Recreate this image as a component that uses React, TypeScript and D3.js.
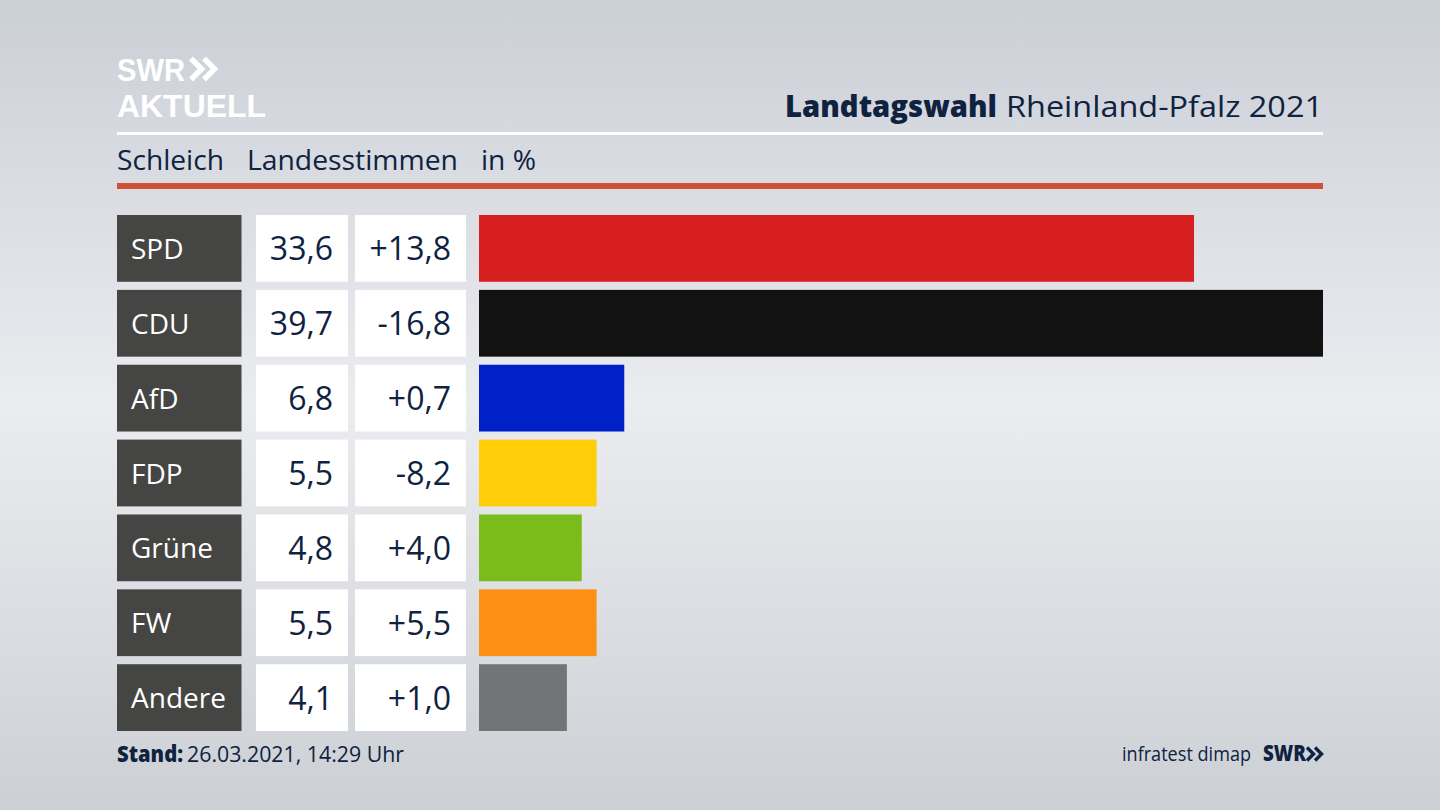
import React from "react";
import * as d3 from "d3";

const parties = ["SPD", "CDU", "AfD", "FDP", "Grüne", "FW", "Andere"];
const shares = [33.6, 39.7, 6.8, 5.5, 4.8, 5.5, 4.1];
const changes = ["+13,8", "-16,8", "+0,7", "-8,2", "+4,0", "+5,5", "+1,0"];
const colors = ["#d81f1f", "#121212", "#0021c8", "#ffcd09", "#7abc1a", "#ff9016", "#737476"];

const W = 1440, H = 810;
const NAVY = "#0f2240";
const FONT = "'Open Sans', 'Noto Sans', sans-serif";
const LOGO = "'Liberation Sans', sans-serif";
const y = d3.scaleBand<string>().domain(parties).range([215, 731]).paddingInner(0.108).paddingOuter(0);
const x = d3.scaleLinear().domain([0, 39.7]).range([479, 1323]);
const fmt = (v: number) => v.toFixed(1).replace(".", ",");

const chevrons = (cx: number, cy: number, s: number) =>
  [0, 0.62].map((o) => {
    const l = cx + o * s;
    return `M${l},${cy - s * 0.5}L${l + s * 0.5},${cy}L${l},${cy + s * 0.5}`;
  });

export default function App() {
  return (
    <svg width={W} height={H} viewBox={`0 0 ${W} ${H}`} style={{ position: "absolute", left: 0, top: 0, display: "block" }} fontFamily={FONT}>
      <defs>
        <linearGradient id="bg" x1="0" y1="0" x2="0" y2="1">
          <stop offset="0" stopColor="#cbcfd6" />
          <stop offset="0.5" stopColor="#ebecf0" />
          <stop offset="1" stopColor="#ccd0d5" />
        </linearGradient>
      </defs>
      <rect width={W} height={H} fill="url(#bg)" />

      <text x={117} y={80.5} fontFamily={LOGO} fontSize={32} fontWeight={700} fill="#fff" textLength={68} lengthAdjust="spacingAndGlyphs">SWR</text>
      {chevrons(191, 69, 21).map((d, i) => (
        <path key={i} d={d} fill="none" stroke="#fff" strokeWidth={5.5} />
      ))}
      <text x={117} y={117} fontFamily={LOGO} fontSize={32} fontWeight={700} fill="#fff" textLength={149} lengthAdjust="spacingAndGlyphs">AKTUELL</text>

      <text x={785} y={117} fontSize={30} fontWeight={800} fill={NAVY} textLength={212} lengthAdjust="spacingAndGlyphs">Landtagswahl</text>
      <text x={1006} y={117} fontSize={30} fill={NAVY} textLength={317} lengthAdjust="spacingAndGlyphs">Rheinland-Pfalz 2021</text>
      <rect x={117} y={132} width={1206} height={3} fill="#fff" />

      <text x={117} y={170} fontSize={28} fill={NAVY} textLength={107} lengthAdjust="spacingAndGlyphs">Schleich</text>
      <text x={247} y={170} fontSize={28} fill={NAVY} textLength={211} lengthAdjust="spacingAndGlyphs">Landesstimmen</text>
      <text x={481} y={170} fontSize={28} fill={NAVY} textLength={55} lengthAdjust="spacingAndGlyphs">in %</text>
      <rect x={117} y={183} width={1206} height={6} fill="#cf5238" />

      {parties.map((p, i) => {
        const top = y(p)!;
        const h = y.bandwidth();
        const mid = top + h / 2 + 12;
        return (
          <g key={p}>
            <rect x={117} y={top} width={124.5} height={h} fill="#454543" />
            <text x={131} y={mid - 1.5} fontSize={28} fill="#fff">{p}</text>
            <rect x={256} y={top} width={92} height={h} fill="#fff" />
            <text x={333} y={mid} fontSize={32} textAnchor="end" fill={NAVY}>{fmt(shares[i])}</text>
            <rect x={355} y={top} width={111} height={h} fill="#fff" />
            <text x={451} y={mid} fontSize={32} textAnchor="end" fill={NAVY}>{changes[i]}</text>
            <rect x={x(0)} y={top} width={Math.min(x(shares[i]) + 0.7, x(39.7)) - x(0)} height={h} fill={colors[i]} />
          </g>
        );
      })}

      <text x={117} y={762} fontSize={22} fontWeight={800} fill={NAVY} textLength={66} lengthAdjust="spacingAndGlyphs">Stand:</text>
      <text x={187} y={762} fontSize={22} fill={NAVY} textLength={217} lengthAdjust="spacingAndGlyphs">26.03.2021, 14:29 Uhr</text>
      <text x={1122} y={761} fontSize={19.5} fill={NAVY} textLength={129} lengthAdjust="spacingAndGlyphs">infratest dimap</text>
      <text x={1263} y={761} fontSize={22} fontWeight={800} fill={NAVY} textLength={43} lengthAdjust="spacingAndGlyphs">SWR</text>
      {chevrons(1307, 754, 13).map((d, i) => (
        <path key={i} d={d} fill="none" stroke={NAVY} strokeWidth={3.4} />
      ))}
    </svg>
  );
}
